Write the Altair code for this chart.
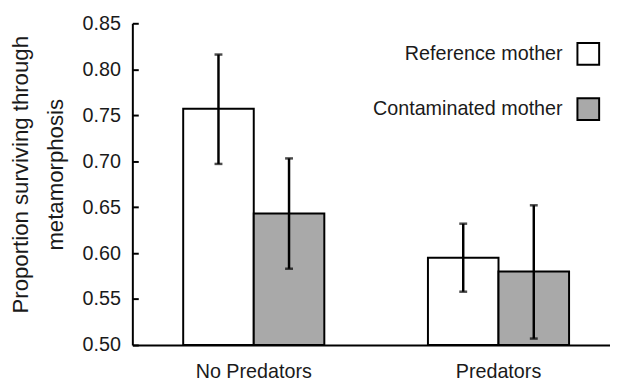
import altair as alt
import pandas as pd

groups = ["No Predators", "No Predators", "Predators", "Predators"]
mothers = ["Reference mother", "Contaminated mother", "Reference mother", "Contaminated mother"]
means = [0.757, 0.643, 0.595, 0.580]
lowers = [0.697, 0.583, 0.558, 0.507]
uppers = [0.816, 0.703, 0.632, 0.652]

group_order = ["No Predators", "Predators"]
mother_order = ["Reference mother", "Contaminated mother"]
fill_colors = ["#ffffff", "#a9a9a9"]
y_ticks = [0.50, 0.55, 0.60, 0.65, 0.70, 0.75, 0.80, 0.85]
BASE = 0.5

df = pd.DataFrame({
    "group": groups,
    "mother": mothers,
    "mean": means,
    "lower": lowers,
    "upper": uppers,
})

FONT = "Liberation Sans"
TXT = "#1a1a1a"
W, H = 484, 326

x_enc = alt.X(
    "group:N",
    sort=group_order,
    scale=alt.Scale(paddingInner=0.4234, paddingOuter=0.1875, align=0.554),
    axis=alt.Axis(
        title=None, labelAngle=0, ticks=False, tickSize=0, labelPadding=17,
        labelFontSize=20, labelFont=FONT, labelColor=TXT,
        domainColor="black", domainWidth=2,
    ),
)
xoff_enc = alt.XOffset(
    "mother:N", sort=mother_order,
    scale=alt.Scale(paddingInner=0, paddingOuter=0),
)

y_scale = alt.Scale(domain=[0.5, 0.85], zero=False, nice=False)

bars = alt.Chart(df).mark_bar(stroke="black", strokeWidth=2).encode(
    x=x_enc,
    xOffset=xoff_enc,
    y=alt.Y(
        "mean:Q",
        scale=y_scale,
        axis=alt.Axis(
            orient="right", offset=-W, values=y_ticks, format=".2f", grid=False,
            tickSize=6, tickWidth=2, tickColor="black",
            domainColor="black", domainWidth=2,
            labelAlign="right", labelPadding=-18, labelFontSize=20,
            labelFont=FONT, labelColor=TXT,
            title=["Proportion surviving through", "metamorphosis"],
            titleAngle=270, titleAlign="center", titleBaseline="alphabetic",
            titleX=-106, titleY=153, titleFontSize=22.5, titleFontWeight="normal",
            titleFont=FONT, titleColor=TXT, titleLineHeight=35,
        ),
    ),
    y2=alt.datum(BASE),
    fill=alt.Fill(
        "mother:N",
        sort=mother_order,
        scale=alt.Scale(domain=mother_order, range=fill_colors),
        legend=alt.Legend(
            title=None, orient="none", legendX=450, legendY=19, padding=0,
            symbolType="square", symbolSize=484, symbolStrokeColor="black",
            symbolStrokeWidth=2, rowPadding=26,
            labelAlign="right", labelOffset={"expr": "-38"}, labelLimit=0,
            labelFontSize=20, labelFont=FONT, labelColor=TXT,
        ),
    ),
)

rules = alt.Chart(df).mark_rule(color="black", strokeWidth=2.5).encode(
    x=x_enc,
    xOffset=xoff_enc,
    y=alt.Y("lower:Q", scale=y_scale),
    y2="upper:Q",
)

caps_lo = alt.Chart(df).mark_tick(color="black", thickness=2.5, size=8).encode(
    x=x_enc, xOffset=xoff_enc, y=alt.Y("lower:Q", scale=y_scale),
)
caps_hi = alt.Chart(df).mark_tick(color="black", thickness=2.5, size=8).encode(
    x=x_enc, xOffset=xoff_enc, y=alt.Y("upper:Q", scale=y_scale),
)

chart = alt.layer(bars, rules, caps_lo, caps_hi).properties(
    width=W, height=H,
    autosize=alt.AutoSizeParams(type="none"),
    padding={"left": 126, "top": 13, "right": 0, "bottom": 36},
    background="white",
).configure_view(stroke=None)

chart.save("out.html", embed_options={"renderer": "svg", "actions": False})
